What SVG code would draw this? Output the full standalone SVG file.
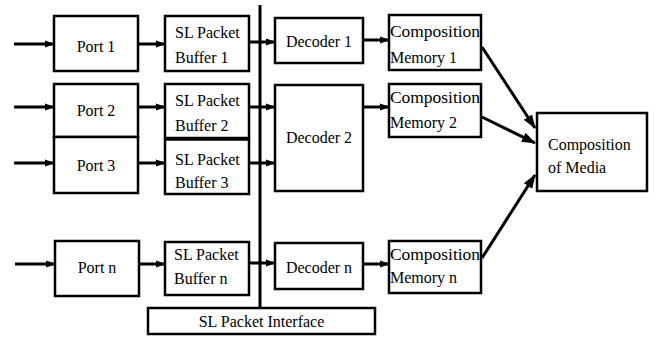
<svg xmlns="http://www.w3.org/2000/svg" width="655" height="337" viewBox="0 0 655 337">
<style>
.box{fill:#fff;stroke:#000;stroke-width:2.5}
.c{stroke:#000;stroke-width:3;fill:none}
</style>
<defs>
<marker id="ah" markerUnits="userSpaceOnUse" markerWidth="10" markerHeight="10" viewBox="0 0 10 10" refX="9" refY="5" orient="auto">
<path d="M0,1.5 L10,5 L0,8.5 Z" fill="#000"/>
</marker>
<marker id="ahb" markerUnits="userSpaceOnUse" markerWidth="14" markerHeight="14" viewBox="0 0 14 14" refX="13" refY="7" orient="auto">
<path d="M0,2 L14,7 L0,12 Z" fill="#000"/>
</marker>
</defs>
<rect width="655" height="337" fill="#fff"/>
<g font-family="Liberation Serif, Times New Roman, Noto Serif, serif" font-size="16" fill="#000">
<g id="bus"><line x1="260" y1="5" x2="260" y2="308" stroke="#000" stroke-width="3"/></g>
<g id="interface"><rect class="box" x="148" y="308" width="227" height="26"/><text x="261.5" y="327" text-anchor="middle">SL Packet Interface</text></g>
<g id="port1"><rect class="box" x="54" y="16" width="84" height="55"/><text x="96" y="52" text-anchor="middle">Port 1</text></g>
<g id="port2"><rect class="box" x="54" y="84" width="84" height="53"/><text x="96" y="116" text-anchor="middle">Port 2</text></g>
<g id="port3"><rect class="box" x="54" y="137" width="84" height="56"/><text x="96" y="171" text-anchor="middle">Port 3</text></g>
<g id="portn"><rect class="box" x="55" y="241" width="84" height="55"/><text x="97" y="273" text-anchor="middle">Port n</text></g>
<g id="buf1"><rect class="box" x="165" y="16" width="84" height="55"/><text x="175" y="38">SL Packet</text><text x="175" y="63">Buffer 1</text></g>
<g id="buf2"><rect class="box" x="165" y="84" width="84" height="54"/><text x="175" y="106">SL Packet</text><text x="175" y="131">Buffer 2</text></g>
<g id="buf3"><rect class="box" x="165" y="139.5" width="84" height="54.5"/><text x="175" y="165">SL Packet</text><text x="175" y="188">Buffer 3</text></g>
<g id="bufn"><rect class="box" x="165" y="242" width="84" height="53"/><text x="174" y="260">SL Packet</text><text x="174" y="284">Buffer n</text></g>
<g id="dec1"><rect class="box" x="275" y="18" width="88" height="45"/><text x="319" y="47" text-anchor="middle">Decoder 1</text></g>
<g id="dec2"><rect class="box" x="275" y="85" width="88" height="106"/><text x="319" y="143" text-anchor="middle">Decoder 2</text></g>
<g id="decn"><rect class="box" x="275" y="243" width="88" height="46"/><text x="319" y="273" text-anchor="middle">Decoder n</text></g>
<g id="cm1"><rect class="box" x="389" y="15" width="92" height="55"/><text x="390" y="37" textLength="90" lengthAdjust="spacingAndGlyphs">Composition</text><text x="390" y="63">Memory 1</text></g>
<g id="cm2"><rect class="box" x="389" y="84" width="92" height="53"/><text x="390" y="103" textLength="90" lengthAdjust="spacingAndGlyphs">Composition</text><text x="390" y="128">Memory 2</text></g>
<g id="cmn"><rect class="box" x="389" y="241" width="92" height="52"/><text x="390" y="260" textLength="90" lengthAdjust="spacingAndGlyphs">Composition</text><text x="390" y="283">Memory n</text></g>
<g id="media"><rect class="box" x="537" y="113" width="110" height="78"/><text x="548" y="150">Composition</text><text x="548" y="173">of Media</text></g>
</g>
<g id="connectors">
<line class="c" x1="14" y1="44" x2="54" y2="44" marker-end="url(#ah)"/>
<line class="c" x1="14" y1="107" x2="54" y2="107" marker-end="url(#ah)"/>
<line class="c" x1="14" y1="163" x2="54" y2="163" marker-end="url(#ah)"/>
<line class="c" x1="15" y1="264" x2="55" y2="264" marker-end="url(#ah)"/>
<line class="c" x1="138" y1="44" x2="165" y2="44" marker-end="url(#ah)"/>
<line class="c" x1="138" y1="107" x2="165" y2="107" marker-end="url(#ah)"/>
<line class="c" x1="138" y1="163" x2="165" y2="163" marker-end="url(#ah)"/>
<line class="c" x1="139" y1="264" x2="165" y2="264" marker-end="url(#ah)"/>
<line class="c" x1="248" y1="42" x2="275" y2="42" marker-end="url(#ah)"/>
<line class="c" x1="248" y1="107" x2="275" y2="107" marker-end="url(#ah)"/>
<line class="c" x1="248" y1="163" x2="275" y2="163" marker-end="url(#ah)"/>
<line class="c" x1="248" y1="263" x2="275" y2="263" marker-end="url(#ah)"/>
<line class="c" x1="363" y1="40" x2="389" y2="40" marker-end="url(#ah)"/>
<line class="c" x1="363" y1="107" x2="389" y2="107" marker-end="url(#ah)"/>
<line class="c" x1="363" y1="264" x2="389" y2="264" marker-end="url(#ah)"/>
<line class="c" x1="482" y1="47" x2="535" y2="128" marker-end="url(#ahb)"/>
<line class="c" x1="482" y1="117" x2="535" y2="143" marker-end="url(#ahb)"/>
<line class="c" x1="482" y1="258" x2="535" y2="175" marker-end="url(#ahb)"/>
</g>
</svg>
